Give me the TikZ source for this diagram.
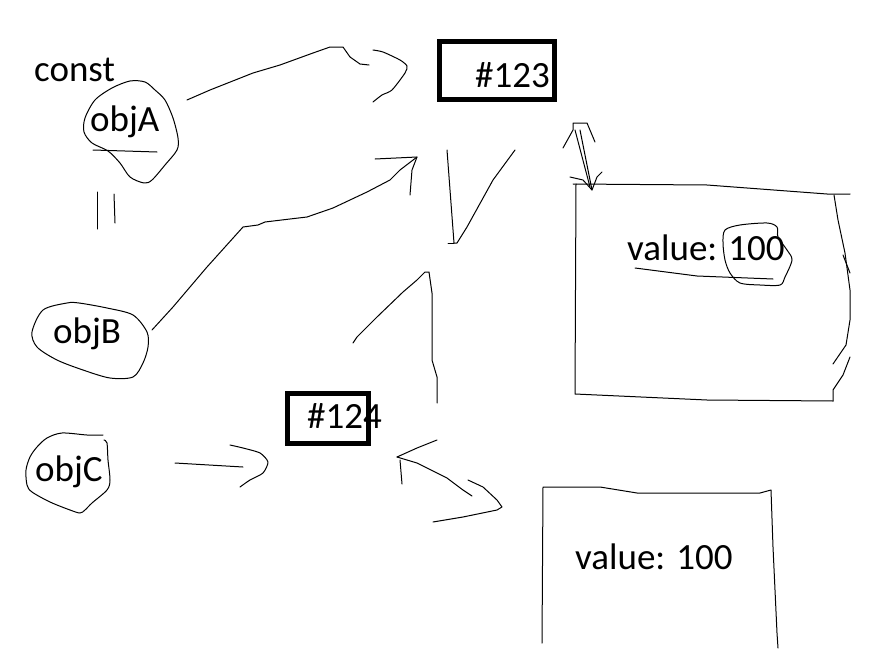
\documentclass[tikz,border=0pt]{standalone}
\usepackage{fontspec}
\setmainfont{Carlito}
\begin{document}
\begin{tikzpicture}[x=1pt,y=-1pt,
  pen/.style={line width=1pt, line join=round, line cap=round},
  thickbox/.style={draw, line width=4.8pt, inner sep=0pt},
  lbl/.style={anchor=base west, inner sep=0pt, font=\fontsize{37}{41}\selectfont}]
\useasboundingbox (0,0) rectangle (884,653);
% ---------- labels ----------
\node[lbl] (const) at (34,81) {const};
\node[lbl] (objA) at (90,131) {objA};
\node[lbl] (objB) at (53,343) {objB};
\node[lbl] (objC) at (35,481) {objC};
% ---------- address boxes ----------
\node[thickbox, minimum width=115pt, minimum height=58pt] (box123) at (497,70.5) {};
\node[lbl] (t123) at (475,87) {\#123};
\node[thickbox, minimum width=81pt, minimum height=50pt] (box124) at (328,418.5) {};
\node[lbl] (t124) at (307,428) {\#124};
\node[lbl] (val1) at (627,260) {value: 100};
\node[lbl] (val2) at (575,569) {value: 100};
% ---------- blobs ----------
\draw[pen] plot[smooth cycle, tension=0.5] coordinates {(130,81) (112,88) (95,100) (85,118) (84,132) (92,143) (108,151) (120,163) (130,177) (144,183) (152,180) (165,165) (177,150) (178,138) (173,118) (165,100) (155,90) (145,82)};
\draw[pen] (93,150) -- (157,152);
\draw[pen] (97,192) -- (97,229);
\draw[pen] (114,194) -- (115,223);
\draw[pen] plot[smooth cycle, tension=0.5] coordinates {(32,332) (43,310) (67,303) (79,303) (107,308) (133,315) (147,332) (148,347) (143,363) (133,377) (110,378) (83,370) (57,360) (37,347)};
\draw[pen] plot[smooth, tension=0.5] coordinates {(103,435) (87,435) (62,433) (47,438) (37,447) (30,457) (26,470) (27,485) (32,492) (50,502) (70,510) (80,513) (85,510) (92,503) (107,490) (110,480) (108,460) (107,443) (104,440)};
% ---------- connector end points ----------
\coordinate (aS) at (187,100);
\coordinate (aE) at (369,65);
\coordinate (bS) at (152,330);
\coordinate (bE) at (417,157);
\coordinate (cS) at (175,463);
\coordinate (cE) at (243,467);
\coordinate (dS) at (397,457);
% ---------- objA -> #123 ----------
\draw[pen] (aS) -- (210,90) -- (253,73) -- (280,65) -- (313,53) -- (330,47) -- (343,47) -- (350,57) -- (360,64) -- (aE);
\draw[pen] plot[smooth, tension=0.4] coordinates {(373,50) (383,52) (400,60) (407,66) (405,73) (392,90) (382,95) (373,102)};
% ---------- objB -> #123 ----------
\draw[pen] (bS) -- (173,307) -- (207,267) -- (243,227) -- (258,225) -- (265,222) -- (290,219) -- (307,217) -- (333,208) -- (367,192) -- (390,180) -- (400,170) -- (bE);
\draw[pen] (375,159) -- (bE) -- (412,170) -- (410,195);
% ---------- V below #123 ----------
\draw[pen] (447,150) -- (454,243) -- (457,243) -- (467,227) -- (493,180) -- (515,150);
\draw[pen] (448,243) -- (454,243);
% ---------- double arrow #123 <-> box ----------
\draw[pen] (563,148) -- (573,130) -- (573,123) -- (587,123) -- (595,142);
\draw[pen] (575,130) -- (590,187);
\draw[pen] (580,130) -- (592,190);
\draw[pen] (570,177) -- (583,180) -- (592,190) -- (597,177) -- (602,172);
% ---------- object box 1 ----------
\draw[pen] (573,184) -- (707,185) -- (827,194) -- (850,194);
\draw[pen] (576,184) -- (575,394) -- (707,400) -- (833,401);
\draw[pen] (834,195) -- (838,220) -- (845,253) -- (850,290) -- (850,320) -- (846,345) -- (833,364);
\draw[pen] (850,357) -- (843,375) -- (833,390) -- (833,401);
\draw[pen] (843,255) -- (850,273);
\draw[pen] (635,268) -- (697,276) -- (773,279);
\draw[pen] plot[smooth cycle, tension=0.5] coordinates {(725,230) (740,225) (767,223) (777,227) (778,237) (787,250) (792,260) (785,277) (780,285) (760,285) (740,283) (730,273) (725,260) (723,243)};
% ---------- inverted V above #124 ----------
\draw[pen] (353,343) -- (357,337) -- (377,317) -- (403,292) -- (417,280) -- (425,272) -- (429,272) -- (432,293) -- (432,360) -- (437,377) -- (437,403);
% ---------- objC -> #124 ----------
\draw[pen] (cS) -- (cE);
\draw[pen] plot[smooth, tension=0.4] coordinates {(230,445) (243,448) (260,453) (268,462) (263,473) (250,480) (240,487)};
% ---------- box 2 -> #124 ----------
\draw[pen] (437,440) -- (417,448) -- (dS);
\draw[pen] (400,460) -- (402,484);
\draw[pen] (dS) -- (417,463) -- (447,478) -- (463,490) -- (472,496);
\draw[pen] (468,480) -- (483,487) -- (497,500) -- (502,507) -- (497,510) -- (463,517) -- (433,522);
% ---------- object box 2 ----------
\draw[pen] (542,643) -- (543,487) -- (567,487) -- (600,487) -- (637,493) -- (760,493) -- (771,490) -- (773,547) -- (777,633) -- (778,648);
\end{tikzpicture}
\end{document}
